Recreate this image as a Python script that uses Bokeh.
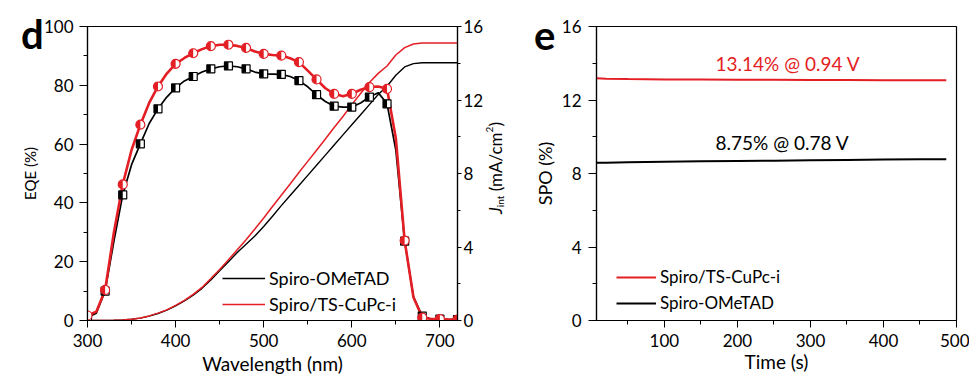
import math
from bokeh.plotting import figure
from bokeh.models import (Range1d, LinearAxis, SingleIntervalTicker, Legend, LegendItem, Div)
from bokeh.layouts import row
from bokeh.embed import file_html
from bokeh.resources import INLINE

# ---------------- data ----------------
wavelength = list(range(300, 730, 10))
eqe_spiro = [1.0, 2.5, 10.0, 27.0, 42.7, 53.0, 60.1, 67.0, 72.0, 76.0, 79.1, 81.5, 83.0, 84.5, 85.6,
             86.3, 86.6, 86.3, 85.6, 84.5, 83.9, 83.8, 83.7, 83.0, 81.6, 79.5, 76.8, 74.5, 72.9, 72.6,
             72.6, 74.0, 76.0, 77.5, 73.7, 58.0, 27.0, 8.0, 1.5, 0.5, 0.5, 0.3, 0.3]
eqe_ts = [1.7, 3.0, 10.4, 30.0, 46.3, 58.0, 66.6, 74.0, 79.6, 84.0, 87.3, 89.3, 90.9, 92.3, 93.3,
          93.8, 93.8, 93.4, 92.7, 91.5, 90.7, 90.3, 90.1, 89.2, 87.9, 85.0, 82.0, 79.0, 77.1, 76.3,
          77.1, 78.5, 79.4, 79.6, 78.8, 62.0, 27.2, 7.9, 1.0, 0.5, 0.5, 0.3, 0.3]
jint_spiro = [0, 0, 0, 0.01, 0.03, 0.07, 0.13, 0.24, 0.38, 0.56, 0.8, 1.07, 1.38, 1.75, 2.2,
              2.7, 3.2, 3.7, 4.15, 4.6, 5.12, 5.67, 6.25, 6.8, 7.35, 7.9, 8.45, 9.0, 9.55, 10.1,
              10.65, 11.2, 11.75, 12.3, 12.75, 13.35, 13.8, 13.98, 14.03, 14.03, 14.03, 14.03, 14.03]
jint_ts = [0, 0, 0, 0.01, 0.03, 0.07, 0.14, 0.25, 0.4, 0.58, 0.82, 1.1, 1.42, 1.8, 2.28,
           2.78, 3.3, 3.85, 4.4, 4.98, 5.58, 6.2, 6.82, 7.43, 8.05, 8.66, 9.27, 9.88, 10.5, 11.1,
           11.75, 12.35, 12.95, 13.45, 13.85, 14.45, 14.85, 15.05, 15.1, 15.1, 15.1, 15.1, 15.1]

time_s = [7, 20, 50, 100, 150, 200, 250, 300, 350, 400, 450, 486]
spo_ts = [13.18, 13.16, 13.14, 13.12, 13.11, 13.10, 13.10, 13.09, 13.09, 13.08, 13.08, 13.07]
spo_spiro = [8.58, 8.59, 8.61, 8.64, 8.66, 8.68, 8.70, 8.72, 8.74, 8.76, 8.77, 8.78]

label_spiro = "Spiro-OMeTAD"
label_ts = "Spiro/TS-CuPc-i"
ann_ts = "13.14% @ 0.94 V"
ann_spiro = "8.75% @ 0.78 V"

RED = "#e31e24"
BLACK = "#000000"
FONT = "Lato"
TXT = "#000000"


def style_axis(ax, tick_out=8, minor_out=4, standoff=6, size="17px"):
    ax.major_label_text_font = FONT
    ax.major_label_text_font_size = size
    ax.major_label_text_color = TXT
    ax.axis_label_text_font = FONT
    ax.axis_label_text_font_style = "normal"
    ax.axis_label_text_color = TXT
    ax.axis_line_color = "black"
    ax.axis_line_width = 1.2
    ax.major_tick_in = 0
    ax.major_tick_out = tick_out
    ax.minor_tick_in = 0
    ax.minor_tick_out = minor_out
    ax.major_tick_line_color = "black"
    ax.minor_tick_line_color = "black"
    ax.major_label_standoff = standoff


# ---------------- panel d ----------------
FW1, FH = 370, 294
p = figure(frame_width=FW1, frame_height=FH, x_range=Range1d(300, 720), y_range=Range1d(0, 100),
           output_backend="svg", toolbar_location=None,
           min_border_left=87, min_border_right=71, min_border_top=26, min_border_bottom=55)
p.grid.visible = False
p.outline_line_color = "black"
p.outline_line_width = 1.2

p.xaxis.ticker = SingleIntervalTicker(interval=100, num_minor_ticks=2)
p.yaxis.ticker = SingleIntervalTicker(interval=20, num_minor_ticks=2)
p.xaxis.axis_label = "Wavelength (nm)"
p.yaxis.axis_label = "EQE (%)"
style_axis(p.xaxis[0], tick_out=7, standoff=6)
style_axis(p.yaxis[0], tick_out=8, standoff=6)
p.xaxis.axis_label_text_font_size = "19px"
p.yaxis.axis_label_text_font_size = "15px"
p.xaxis.axis_label_standoff = 2
p.yaxis.axis_label_standoff = 2

p.extra_y_ranges = {"j": Range1d(0, 16)}
ax_r = LinearAxis(y_range_name="j", ticker=SingleIntervalTicker(interval=4, num_minor_ticks=2))
style_axis(ax_r, tick_out=4, minor_out=3, standoff=2)
p.add_layout(ax_r, "right")

# integrated current lines
lj_s = p.line(wavelength, jint_spiro, y_range_name="j", line_color=BLACK, line_width=1.4)
lj_t = p.line(wavelength, jint_ts, y_range_name="j", line_color=RED, line_width=1.5)

# EQE lines
p.line(wavelength, eqe_spiro, line_color=BLACK, line_width=1.7)
p.line(wavelength, eqe_ts, line_color=RED, line_width=2.6)

# half-filled markers every 20 nm
mk_wl = wavelength[::2]
px_per_nm = FW1 / (720 - 300)
p.scatter(mk_wl, eqe_spiro[::2], marker="square", size=8, fill_color="white", line_color=BLACK, line_width=1.2)
p.rect([w - 2.0 / px_per_nm for w in mk_wl], eqe_spiro[::2], width=4.0 / px_per_nm, height=8,
       height_units="screen", fill_color=BLACK, line_color=None)
p.scatter(mk_wl, eqe_ts[::2], marker="circle", size=9, fill_color="white", line_color=RED, line_width=1.2)
p.wedge(mk_wl, eqe_ts[::2], radius=4.5, radius_units="screen", start_angle=math.pi / 2,
        end_angle=3 * math.pi / 2, fill_color=RED, line_color=None)

leg1 = Legend(items=[LegendItem(label=label_spiro, renderers=[lj_s]),
                     LegendItem(label=label_ts, renderers=[lj_t])],
              location=(135, 5), padding=0, margin=0, spacing=4, glyph_width=43, glyph_height=20,
              label_height=20, label_standoff=4, border_line_color=None, background_fill_alpha=0,
              label_text_font=FONT, label_text_font_size="18px", label_text_color=TXT)
p.add_layout(leg1)

# ---------------- panel e ----------------
FW2 = 360
q = figure(frame_width=FW2, frame_height=FH, x_range=Range1d(7, 500), y_range=Range1d(0, 16),
           output_backend="svg", toolbar_location=None,
           min_border_left=68, min_border_right=13, min_border_top=26, min_border_bottom=55)
q.grid.visible = False
q.outline_line_color = "black"
q.outline_line_width = 1.2
q.xaxis.ticker = SingleIntervalTicker(interval=100, num_minor_ticks=2)
q.yaxis.ticker = SingleIntervalTicker(interval=4, num_minor_ticks=2)
q.xaxis.axis_label = "Time (s)"
q.yaxis.axis_label = "SPO (%)"
style_axis(q.xaxis[0], tick_out=7, standoff=6)
style_axis(q.yaxis[0], tick_out=8, standoff=7)
q.xaxis.axis_label_text_font_size = "19px"
q.yaxis.axis_label_text_font_size = "18px"
q.xaxis.axis_label_standoff = 0
q.yaxis.axis_label_standoff = 3

ls_t = q.line(time_s, spo_ts, line_color=RED, line_width=2)
ls_s = q.line(time_s, spo_spiro, line_color=BLACK, line_width=2)

q.text(x=[170], y=[14.0], text=[ann_ts], text_color=RED, text_font={"value": FONT},
       text_font_size={"value": "19px"}, text_baseline="middle", text_align="left")
q.text(x=[170], y=[9.7], text=[ann_spiro], text_color=BLACK, text_font={"value": FONT},
       text_font_size={"value": "19px"}, text_baseline="middle", text_align="left")

leg2 = Legend(items=[LegendItem(label=label_ts, renderers=[ls_t]),
                     LegendItem(label=label_spiro, renderers=[ls_s])],
              location=(20, 7), padding=0, margin=0, spacing=5, glyph_width=40, glyph_height=20,
              label_height=20, label_standoff=4, border_line_color=None, background_fill_alpha=0,
              label_text_font=FONT, label_text_font_size="17px", label_text_color=TXT)
q.add_layout(leg2)

# overlay texts (panel letters and the right-axis label) as absolutely positioned HTML
LETTER = '<span style="font-family:Lato;font-weight:bold;font-size:40px;line-height:40px;color:black">{}</span>'
div_d = Div(text=LETTER.format("d"),
            styles={"position": "absolute", "left": "16px", "top": "9px", "z-index": "10"})
div_e = Div(text=LETTER.format("e"),
            styles={"position": "absolute", "left": "529px", "top": "10px", "z-index": "10"})
div_j = Div(text='<div style="writing-mode:vertical-rl;transform:rotate(180deg);height:130px;width:20px;'
                 'line-height:20px;font-family:Lato;font-size:17px;color:black;white-space:nowrap;">'
                 '<i>J</i><sub style="font-size:10px">int</sub> (mA/cm<sup style="font-size:10px">2</sup>)</div>',
            styles={"position": "absolute", "left": "474px", "top": "79px", "z-index": "10"})

layout = row(p, q, div_d, div_e, div_j)
open("out.html", "w").write(file_html(layout, INLINE))
